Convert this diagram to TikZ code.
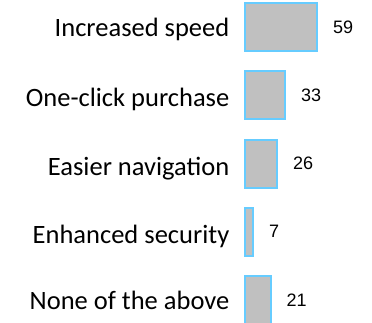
\documentclass[tikz,border=0pt]{standalone}
\usepackage{fontspec}
\newfontfamily\catfont{Carlito}
\newfontfamily\valfont{Liberation Sans}
\usetikzlibrary{positioning}
\definecolor{barfill}{HTML}{C0C0C0}
\definecolor{barline}{HTML}{66CCFF}
\tikzset{
    bar/.style = {rectangle, draw=barline, line width=2pt, fill=barfill, inner sep=0pt, minimum height=48pt, anchor=west},
    cat/.style = {inner sep=0pt, anchor=base east, font=\catfont\fontsize{26.5}{30}\selectfont},
    val/.style = {inner sep=0pt, font=\valfont\fontsize{18}{20}\selectfont}
}
\begin{document}
\begin{tikzpicture}[x=1pt,y=-1pt]
\useasboundingbox (0,0) rectangle (372,322);
%
\node[bar,minimum width=72pt] at (244,27) (speed) {};
\node[bar,minimum width=40pt] at (244,95.25) (click) {};
\node[bar,minimum width=32pt] at (244,163.5) (navig) {};
\node[bar,minimum width=8pt] at (244,231.75) (secur) {};
\node[bar,minimum width=25.5pt] at (244,300) (none) {};
%
\node[val,right=15pt of speed] (vspeed) {59};
\node[val,right=15pt of click] (vclick) {33};
\node[val,right=15pt of navig] (vnavig) {26};
\node[val,right=15pt of secur] (vsecur) {7};
\node[val,right=15pt of none] (vnone) {21};
%
\node[cat] at (229.5,36) (lspeed) {Increased speed};
\node[cat] at (229.5,106) (lclick) {One-click purchase};
\node[cat] at (229.5,175) (lnavig) {Easier navigation};
\node[cat] at (229.5,243) (lsecur) {Enhanced security};
\node[cat] at (229.5,309) (lnone) {None of the above};

\end{tikzpicture}
\end{document}
